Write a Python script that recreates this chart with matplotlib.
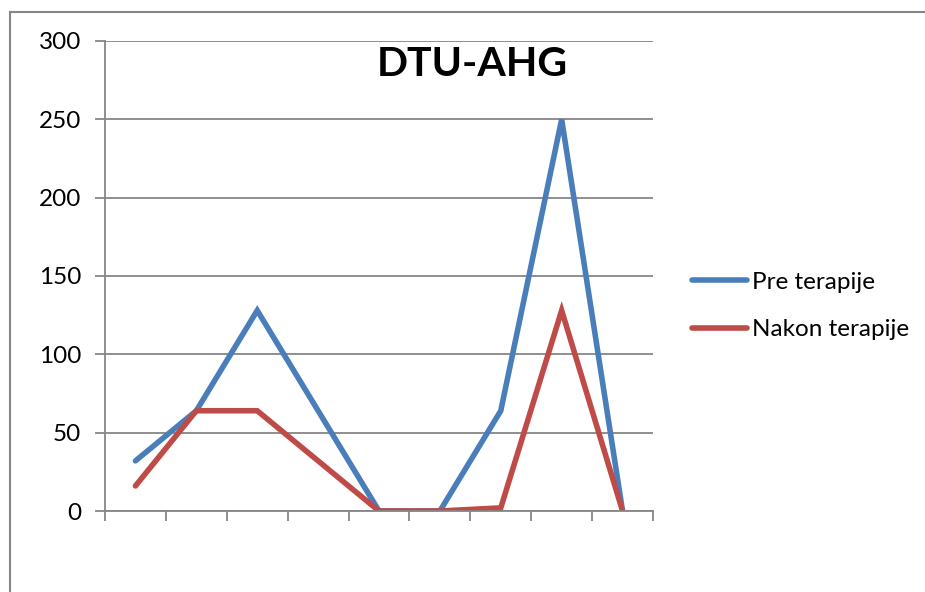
import numpy as np
import matplotlib.pyplot as plt
from matplotlib.lines import Line2D

# data
categories = list(range(1, 10))
pre_terapije = [32, 64, 128, 64, 0, 0, 64, 250, 0]
nakon_terapije = [16, 64, 64, 32, 0, 0, 2, 128, 0]
yticks = [0, 50, 100, 150, 200, 250, 300]

plt.rcParams['font.family'] = ['Lato', 'DejaVu Sans']

fig = plt.figure(figsize=(9.25, 5.92), dpi=100)
ax = fig.add_axes([105 / 925, 1 - 511 / 592, (653 - 105) / 925, (511 - 41) / 592])

grey = '#868686'
x = np.arange(len(categories))
ax.plot(x, pre_terapije, color='#4A7EBB', lw=4.0, solid_capstyle='round',
        solid_joinstyle='miter', label='Pre terapije')
ax.plot(x, nakon_terapije, color='#BE4B48', lw=4.0, solid_capstyle='round',
        solid_joinstyle='miter', label='Nakon terapije')

ax.set_xlim(-0.5, len(categories) - 0.5)
ax.set_ylim(0, 300)
ax.set_yticks(yticks)
ax.set_xticks(np.arange(len(categories) + 1) - 0.5)
ax.set_xticklabels([])
ax.yaxis.grid(True, color=grey, lw=1.3)
ax.set_axisbelow(True)
for s in ['top', 'right']:
    ax.spines[s].set_visible(False)
for s in ['left', 'bottom']:
    ax.spines[s].set_color(grey)
    ax.spines[s].set_linewidth(1.3)
ax.tick_params(axis='both', color=grey, width=1.3, length=7, direction='out',
               labelsize=17.5, pad=10)

ax.text(0.67, 0.95, 'DTU-AHG', transform=ax.transAxes, ha='center', va='center',
        fontsize=29.5, fontweight='bold')

fig.legend(loc='center left', bbox_to_anchor=(670 / 925, 1 - 306 / 592),
           frameon=False, fontsize=17.5, handlelength=2.26, handletextpad=0.2,
           labelspacing=1.1)

# outer chart frame (left and top edges visible)
fig.add_artist(Line2D([9.5 / 925, 9.5 / 925], [0, 1 - 11.5 / 592],
                      transform=fig.transFigure, color=grey, lw=1.5))
fig.add_artist(Line2D([9.5 / 925, 1], [1 - 11.5 / 592, 1 - 11.5 / 592],
                      transform=fig.transFigure, color=grey, lw=1.5))

fig.savefig('out.png', dpi=100)
